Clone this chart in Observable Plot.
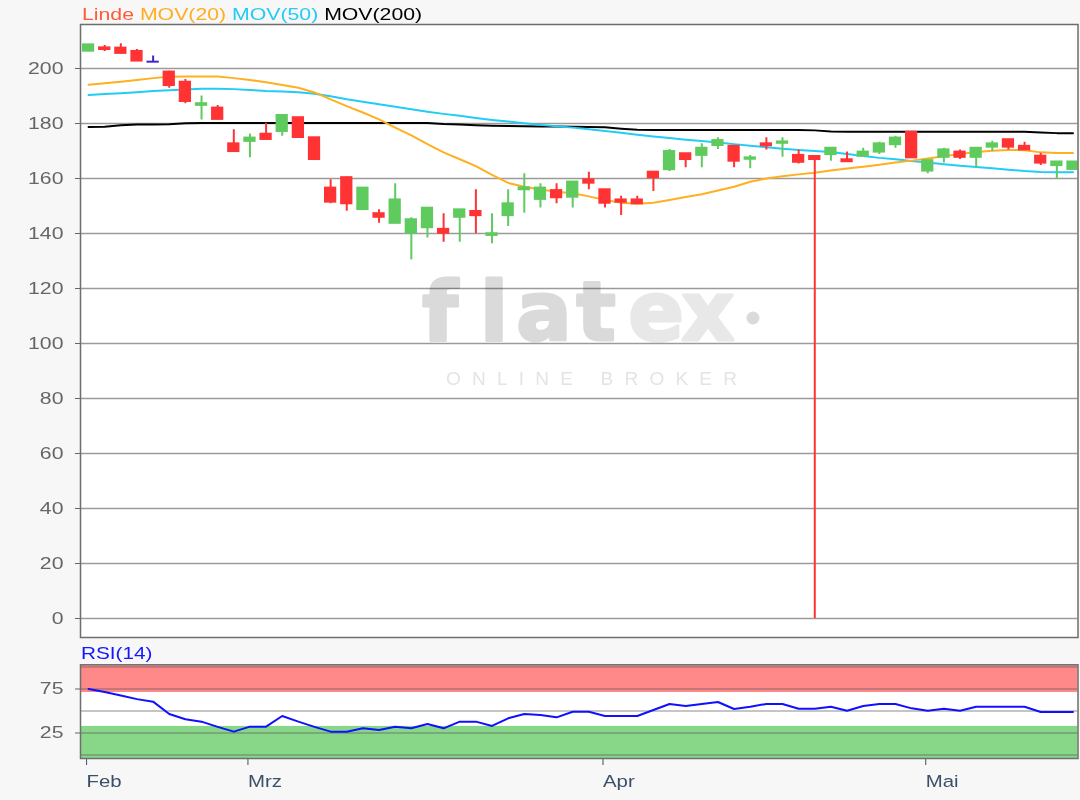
<!DOCTYPE html>
<html><head><meta charset="utf-8">
<script src="https://cdn.jsdelivr.net/npm/d3@7"></script>
<script src="https://cdn.jsdelivr.net/npm/@observablehq/plot@0.6"></script>
<style>
body{margin:0;background:#f7f7f7;font-family:"Liberation Sans",Arial,sans-serif;}
#wrap{position:relative;width:1080px;height:800px;overflow:hidden;background:#f7f7f7;}
.abs{position:absolute;}
#legend{left:82px;top:6px;font-size:17px;line-height:17px;white-space:nowrap;transform:scaleX(1.25);transform-origin:0 50%;}
#rsiLabel{left:81px;top:645px;font-size:17px;line-height:17px;white-space:nowrap;color:#1515ff;transform:scaleX(1.22);transform-origin:0 50%;}
#mark{left:0;top:0;pointer-events:none;mix-blend-mode:multiply;}
#mark .logo{font-family:"DejaVu Sans";font-weight:bold;font-size:82px;stroke-width:3;stroke-linejoin:round;text-anchor:middle;font-variant-ligatures:none;}
</style></head>
<body><div id="wrap">
<div id="main" class="abs" style="left:0;top:20px"></div>
<div id="rsiBox" class="abs" style="left:0;top:660px"></div>
<div id="legend" class="abs"></div>
<div id="rsiLabel" class="abs">RSI(14)</div>
<svg id="mark" class="abs" width="1080" height="800">
  <text class="logo" x="440" y="340" fill="#dadada" stroke="#dadada">f</text>
  <text class="logo" x="494" y="340" fill="#dadada" stroke="#dadada">l</text>
  <text class="logo" x="544" y="340" fill="#dadada" stroke="#dadada">a</text>
  <text class="logo" x="596" y="340" fill="#dadada" stroke="#dadada">t</text>
  <text class="logo" x="656" y="340" fill="#e8e8e8" stroke="#e8e8e8">e</text>
  <text class="logo" x="708" y="340" fill="#e8e8e8" stroke="#e8e8e8">x</text>
  <circle cx="753" cy="318" r="6.5" fill="#dadada"></circle>
  <text x="446" y="385" font-family="Liberation Sans" font-size="19" fill="#e4e4e4" textLength="291" lengthAdjust="spacing">ONLINE BROKER</text>
</svg>
</div>
<script>
// ---- data (Linde, daily, trading-day index 0..61) ----
const open  = [206.3,207.5,207.4,206.2,202.3,198.7,195.0,186.6,185.6,172.6,173.5,176.1,177.1,182.1,174.8,156.5,160.3,148.7,147.2,143.7,140.1,142.1,141.5,145.9,148.0,139.3,146.5,155.9,152.4,155.6,153.2,159.5,155.9,152.2,152.2,162.3,163.2,169.0,168.4,172.0,171.7,167.0,172.6,172.8,168.4,168.0,168.7,166.8,168.1,169.6,172.3,176.8,162.7,167.7,169.6,167.7,171.4,174.1,171.7,168.1,164.7,163.3];
const high  = [208.8,208.4,209.0,206.9,204.5,199.0,196.0,190.0,186.5,177.7,176.2,180.1,183.0,182.3,175.0,159.5,160.5,156.6,148.6,158.1,145.7,149.3,147.2,148.7,155.9,147.2,155.9,161.7,158.1,158.1,158.8,162.3,156.0,153.5,153.5,162.4,170.5,169.1,172.6,174.8,171.8,168.4,174.8,174.8,170.4,168.2,171.1,169.6,171.0,173.2,175.4,177.0,166.6,171.0,170.4,171.1,173.5,174.2,173.2,169.2,166.1,166.1];
const low   = [206.2,206.2,205.3,202.5,202.3,192.8,187.2,181.3,181.3,169.6,167.5,174.0,175.4,174.8,166.8,150.8,148.1,148.6,143.7,143.6,130.4,138.4,136.8,136.8,139.9,136.3,142.5,147.4,149.3,150.8,149.3,155.9,149.3,146.5,150.6,155.3,162.5,163.9,163.9,170.5,163.9,163.5,170.4,167.7,165.3,0,166.3,166.1,168.0,168.7,171.0,167.3,161.7,165.6,166.9,163.7,169.8,170.4,170.3,164.7,159.9,163.2];
const close = [208.6,206.9,205.5,202.7,202.3,193.8,188.0,187.2,181.5,169.8,174.7,174.2,182.9,174.9,166.9,151.4,150.8,156.5,145.9,152.2,145.0,149.2,140.1,148.6,146.5,139.9,150.8,156.6,156.5,153.0,158.7,158.3,151.0,151.4,150.8,160.3,169.8,166.9,171.0,173.8,166.3,167.5,171.9,173.3,165.9,166.9,171.0,166.1,169.6,172.6,174.7,167.5,166.5,170.4,167.7,171.0,172.6,171.4,170.4,165.6,166.0,166.0];
const ma20  = [194.1,194.6,195.2,195.8,196.5,197.0,197.1,197.1,197.1,196.5,195.8,195.0,194.0,193.0,191.3,188.8,186.3,184.0,181.5,178.5,175.7,172.5,169.5,167.0,164.5,161.3,158.4,157.0,156.0,155.2,154.6,153.5,152.2,151.2,150.8,151.2,152.2,153.3,154.3,155.6,157.0,158.8,160.0,160.8,161.5,162.1,162.9,163.6,164.3,165.0,165.8,166.5,167.3,168.1,168.9,169.6,170.1,170.4,170.3,169.5,169.3,169.3];
const ma50  = [190.4,190.7,191.0,191.4,191.8,192.1,192.4,192.6,192.6,192.5,192.2,191.8,191.6,191.4,190.8,189.9,188.8,187.9,187.0,186.1,185.2,184.3,183.5,182.8,182.0,181.3,180.7,180.1,179.5,179.0,178.5,177.9,177.3,176.6,175.9,175.3,174.7,174.1,173.6,173.1,172.5,171.9,171.4,170.8,170.4,170.0,169.6,168.9,168.2,167.5,167.0,166.4,165.8,165.2,164.6,164.2,163.7,163.2,162.7,162.4,162.3,162.3];
const ma200 = [178.7,178.8,179.4,179.6,179.6,179.7,180.1,180.2,180.2,180.2,180.2,180.2,180.2,180.2,180.2,180.2,180.2,180.2,180.2,180.2,180.2,180.2,179.8,179.6,179.4,179.2,179.1,179.0,178.9,178.9,178.8,178.7,178.6,178.1,177.7,177.6,177.6,177.6,177.6,177.6,177.6,177.6,177.6,177.6,177.6,177.5,177.1,177.0,177.0,177.0,177.0,177.0,177.0,177.0,177.0,177.0,177.0,177.0,177.0,176.7,176.5,176.5];
const rsi   = [75,71.5,67.5,63.5,60.6,46.6,40.6,37.9,32,26.5,32.2,32.2,44.3,37.9,32,26.5,26.5,30.3,28.4,32.2,30.3,35.2,30.3,37.9,37.9,33,41.7,46.6,45.5,42.8,49.2,49.2,44.3,44.3,44.3,51.1,58,55.7,58,60.2,52.3,54.9,58,58,52.6,52.6,54.9,50.3,55.7,58,58,53,50.3,52.6,50.3,54.9,54.9,54.9,54.9,48.9,48.9,48.9];
const yTicks = [0,20,40,60,80,100,120,140,160,180,200];
const rsiTicks = [25,75];
const rsiGrid = [0,25,50,75,100];
const rsiBands = [{y1:71, y2:101.6, fill:"#ff8888"}, {y1:-4, y2:32.5, fill:"#88d688"}];
const tickIdx = [0,10,32,52];
const tickLabels = ["Feb","Mrz","Apr","Mai"];
const legendItems = [["Linde","#ff5a3a"],["MOV(20)","#ffad1f"],["MOV(50)","#22ccf5"],["MOV(200)","#000000"]];

// ---- build ----
const days = d3.range(open.length).map(i => ({i, open:open[i], high:high[i], low:low[i], close:close[i],
  ma20:ma20[i], ma50:ma50[i], ma200:ma200[i], rsi:rsi[i]}));
const col = d => d.close > d.open ? "#5fcb5f" : d.close < d.open ? "#ff3333" : "#3c28c8";
const xDomain = [-0.5, 61.31];
const font = {background:"transparent", fontFamily:"Liberation Sans, Arial, sans-serif", fontSize:"17px", overflow:"visible"};

function stretch(svg, sel, k){
  const isNum = s => s != null && s !== "" && !isNaN(+s);
  svg.querySelectorAll(sel).forEach(t => {
    const xs = t.getAttribute("x"), ys = t.getAttribute("y");
    let x = 0, y = 0;
    if (isNum(xs)) { x = +xs; t.removeAttribute("x"); }
    if (isNum(ys)) { y = +ys; t.removeAttribute("y"); }
    const tr = t.getAttribute("transform") || "";
    t.setAttribute("transform", `${tr} translate(${x},${y}) scale(${k},1)`);
  });
}

const main = Plot.plot({
  width:1080, height:622, marginTop:4, marginBottom:5, marginLeft:80, marginRight:2.5,
  x:{domain:xDomain, axis:null},
  y:{domain:[-6.91,216]},
  style:font,
  marks:[
    Plot.frame({fill:"white"}),
    Plot.ruleY(yTicks, {stroke:"#9b9b9b", strokeWidth:1.5}),
    Plot.axisY(yTicks, {tickSize:5, tickPadding:12, color:"#666", fontSize:17, label:null, tickFormat:d => String(d)}),
    Plot.line(days, {x:"i", y:"ma200", stroke:"#000", strokeWidth:2}),
    Plot.line(days, {x:"i", y:"ma50", stroke:"#22ccf5", strokeWidth:2}),
    Plot.line(days, {x:"i", y:"ma20", stroke:"#ffb020", strokeWidth:2}),
    Plot.ruleX(days, {x:"i", y1:"low", y2:"high", stroke:col, strokeWidth:2, clip:true}),
    Plot.rect(days, {x1:d => d.i - 0.38, x2:d => d.i + 0.38, y1:"open", y2:"close", fill:col, insetTop:-1, insetBottom:-1, clip:true}),
    Plot.frame({stroke:"#6e6e6e", strokeWidth:1.5})
  ]
});
stretch(main, 'g[aria-label="y-axis tick label"] text', 1.25);
document.getElementById("main").appendChild(main);

const rsiPlot = Plot.plot({
  width:1080, height:140, marginTop:4.3, marginBottom:42, marginLeft:80, marginRight:2.5,
  x:{domain:xDomain},
  y:{domain:[-4, 102.5]},
  style:font,
  marks:[
    Plot.frame({fill:"white"}),
    Plot.rect(rsiBands, {y1:"y1", y2:"y2", fill:"fill"}),
    Plot.ruleY(rsiGrid, {stroke:"#555", strokeOpacity:0.45, strokeWidth:1.5}),
    Plot.axisY(rsiTicks, {tickSize:5, tickPadding:12, color:"#666", fontSize:17, label:null}),
    Plot.axisX(tickIdx, {tickSize:7, tickPadding:9, color:"#3b5068", fontSize:17, textAnchor:"start", dx:-2, label:null,
      tickFormat:d => tickLabels[tickIdx.indexOf(d)]}),
    Plot.line(days, {x:"i", y:"rsi", stroke:"#1010ff", strokeWidth:2}),
    Plot.frame({stroke:"#6e6e6e", strokeWidth:1.5})
  ]
});
stretch(rsiPlot, 'g[aria-label="y-axis tick label"] text', 1.25);
stretch(rsiPlot, 'g[aria-label="x-axis tick label"] text', 1.2);
document.getElementById("rsiBox").appendChild(rsiPlot);

const legend = document.getElementById("legend");
legendItems.forEach(([t, c], k) => {
  const s = document.createElement("span");
  s.textContent = (k ? " " : "") + t;
  s.style.color = c;
  legend.appendChild(s);
});
</script>
</body></html>
